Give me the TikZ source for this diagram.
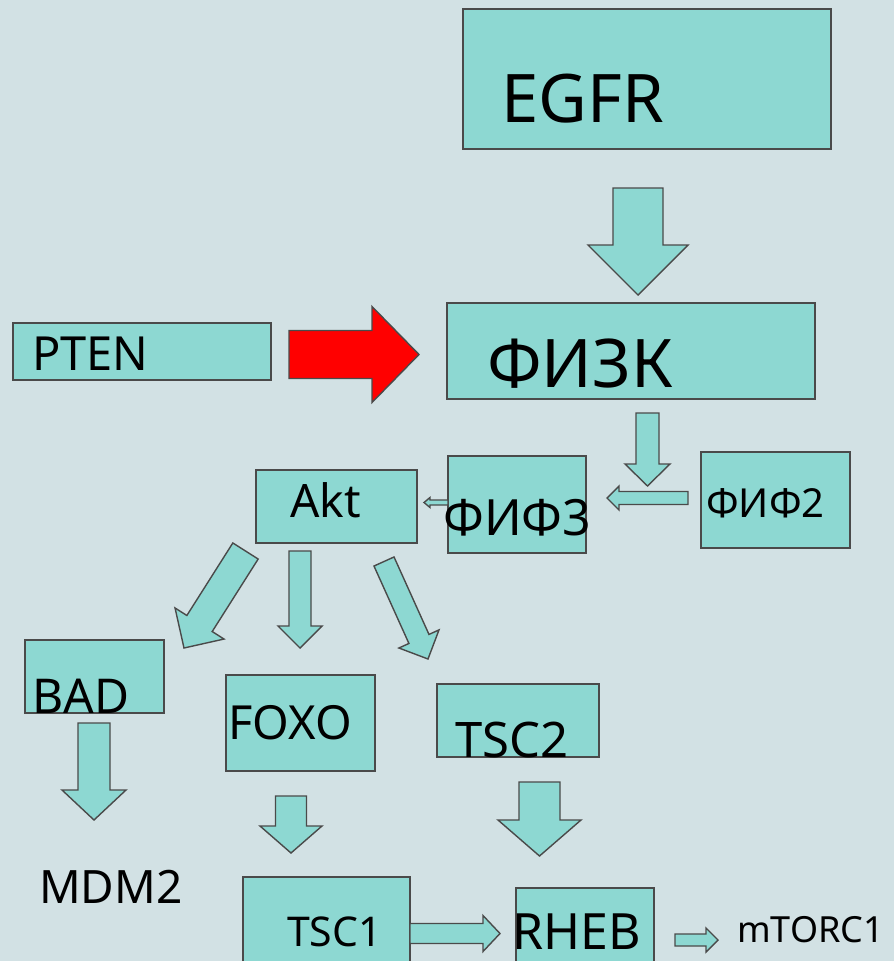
\documentclass[tikz,border=0pt]{standalone}
\usepackage{fontspec}
\setmainfont{Noto Sans}
\usetikzlibrary{calc}
\definecolor{bg}{HTML}{D2E1E4}
\definecolor{boxc}{HTML}{8DD8D2}
\definecolor{edge}{HTML}{4A4A4A}
\definecolor{redarr}{HTML}{FF0000}
\newcommand{\blockarr}[6]{%
  \coordinate (hb) at ($(#2)!#5!(#1)$);
  \draw[#6] ($(#1)!#3!90:(#2)$) -- ($(hb)!#3!-90:(#1)$) -- ($(hb)!#4!-90:(#1)$) -- (#2)
    -- ($(hb)!#4!90:(#1)$) -- ($(hb)!#3!90:(#1)$) -- ($(#1)!#3!-90:(#2)$) -- cycle;}
\tikzset{
  box/.style={rectangle, draw=edge, fill=boxc, line width=1.4pt, inner sep=0pt},
  arr/.style={draw=edge, fill=boxc, line width=1.4pt, line join=miter},
  redarrow/.style={draw=edge, fill=redarr, line width=1.4pt, line join=miter},
  txt/.style={anchor=base west, inner sep=0pt, text=black},
}
\newcommand{\fs}[1]{\fontsize{#1}{#1}\selectfont}
\begin{document}
\begin{tikzpicture}[x=1pt,y=-1pt]
\fill[bg] (0,0) rectangle (894,961);
\useasboundingbox (0,0) rectangle (894,961);
\clip (0,0) rectangle (894,961);
% boxes
\node[box, minimum width=368pt, minimum height=140pt] (egfr) at (647,79) {};
\node[box, minimum width=368pt, minimum height=96pt] (fizk) at (631,351) {};
\node[box, minimum width=258pt, minimum height=57pt] (pten) at (142,351.5) {};
\node[box, minimum width=149pt, minimum height=96pt] (fif2) at (775.5,500) {};
\node[box, minimum width=138pt, minimum height=97pt] (fif3) at (517,504.5) {};
\node[box, minimum width=161pt, minimum height=73pt] (akt) at (336.5,506.5) {};
\node[box, minimum width=139pt, minimum height=73pt] (bad) at (94.5,676.5) {};
\node[box, minimum width=149pt, minimum height=96pt] (foxo) at (300.5,723) {};
\node[box, minimum width=162pt, minimum height=73pt] (tsc2) at (518,720.5) {};
\node[box, minimum width=167pt, minimum height=90pt] (tsc1) at (326.5,922) {};
\node[box, minimum width=138pt, minimum height=80pt] (rheb) at (585,928) {};
% texts
\node[txt, font=\fs{67}] (egfrT) at (501,122) {EGFR};
\node[txt, font=\fs{67}] (fizkT) at (487,387) {ФИЗК};
\node[txt, font=\fs{47}] (ptenT) at (32,370) {PTEN};
\node[txt, font=\fs{40}] (fif2T) at (706,517) {ФИФ2};
\node[txt, font=\fs{50}] (fif3T) at (443,535) {ФИФ3};
\node[txt, font=\fs{46}] (aktT) at (290,517) {Akt};
\node[txt, font=\fs{48}] (badT) at (32,713) {BAD};
\node[txt, font=\fs{47}] (foxoT) at (228,739) {FOXO};
\node[txt, font=\fs{49}] (tsc2T) at (455,757) {TSC2};
\node[txt, font=\fs{46}] (mdm2) at (39,903) {MDM2};
\node[txt, font=\fs{41}] (tsc1T) at (287,946) {TSC1};
\node[txt, font=\fs{50}] (rhebT) at (512,949) {RHEB};
\node[txt, font=\fs{36}] (mtorc) at (737,942) {mTORC1};
% arrow end points
\coordinate (a1s) at (638,188);   \coordinate (a1e) at (638,295);
\coordinate (a2s) at (289,354.5); \coordinate (a2e) at (419,354.5);
\coordinate (a3s) at (647.5,413); \coordinate (a3e) at (647.5,486);
\coordinate (a4s) at (688,498);   \coordinate (a4e) at (607,498);
\coordinate (a5s) at (448,502.5); \coordinate (a5e) at (424,502.5);
\coordinate (a6s) at (245.5,551); \coordinate (a6e) at (184,648);
\coordinate (a7s) at (300,551);   \coordinate (a7e) at (300,648);
\coordinate (a8s) at (384,561.5); \coordinate (a8e) at (428,659);
\coordinate (a9s) at (94,723);    \coordinate (a9e) at (94,820);
\coordinate (a10s) at (291,796);  \coordinate (a10e) at (291,853);
\coordinate (a11s) at (539.5,782);\coordinate (a11e) at (539.5,856);
\coordinate (a12s) at (410,933.5);\coordinate (a12e) at (500,933.5);
\coordinate (a13s) at (675,940);  \coordinate (a13e) at (718,940);
% block arrows
\blockarr{a1s}{a1e}{25pt}{50pt}{50pt}{arr}
\blockarr{a2s}{a2e}{24pt}{48pt}{47pt}{redarrow}
\blockarr{a3s}{a3e}{11.5pt}{22.5pt}{22pt}{arr}
\blockarr{a4s}{a4e}{6.5pt}{12pt}{12pt}{arr}
\blockarr{a5s}{a5e}{2.5pt}{5pt}{6pt}{arr}
\blockarr{a6s}{a6e}{15pt}{29pt}{29pt}{arr}
\blockarr{a7s}{a7e}{11pt}{22pt}{22pt}{arr}
\blockarr{a8s}{a8e}{11pt}{22pt}{22pt}{arr}
\blockarr{a9s}{a9e}{16pt}{32pt}{30pt}{arr}
\blockarr{a10s}{a10e}{15.5pt}{31pt}{27pt}{arr}
\blockarr{a11s}{a11e}{20.5pt}{41.5pt}{36pt}{arr}
\blockarr{a12s}{a12e}{10pt}{18pt}{17pt}{arr}
\blockarr{a13s}{a13e}{6pt}{12pt}{12pt}{arr}
\end{tikzpicture}
\end{document}
